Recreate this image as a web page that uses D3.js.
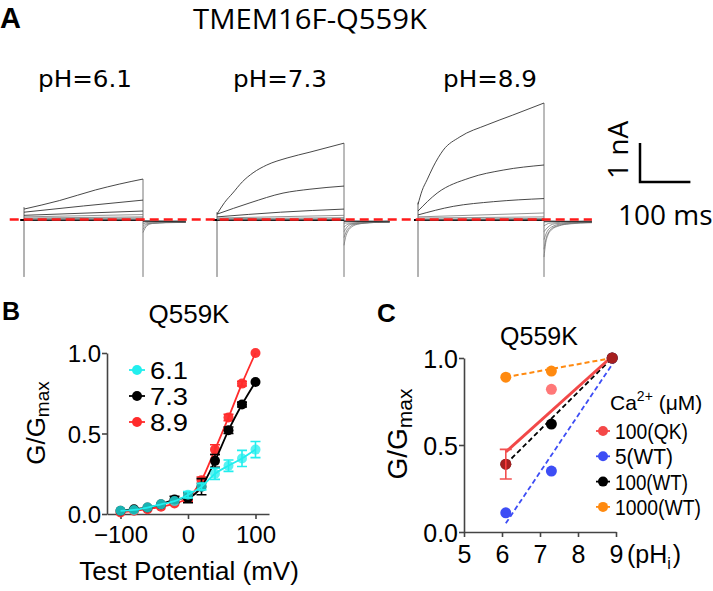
<!DOCTYPE html>
<html><head><meta charset="utf-8">
<script src="https://cdn.jsdelivr.net/npm/d3@7"></script>
<style>body{margin:0;background:#fff}</style>
</head><body>
<svg id="c" width="713" height="591" xmlns="http://www.w3.org/2000/svg"></svg>
<script>
// ================= DATA =================
// Panel A: current traces (time ms, current nA)
const phLabels = ["pH=6.1", "pH=7.3", "pH=8.9"];
const traces61 = [
  [[0,0.28],[75,0.5],[150,0.77],[200,0.92],[250,1.05]],
  [[0,0.2],[125,0.36],[250,0.51]],
  [[0,0.12],[250,0.23]],
  [[0,0.08],[250,0.14]],
  [[0,0.05],[250,0.08]],
  [[0,0.03],[250,0.05]],
  [[0,0.015],[250,0.025]],
  [[0,0.005],[250,0.01]]
];
const tails61 = [
  [[250,-0.32],[258,-0.15],[270,-0.09],[300,-0.07],[340,-0.06]],
  [[250,-0.24],[258,-0.12],[270,-0.08],[340,-0.05]],
  [[250,-0.16],[260,-0.09],[340,-0.05]],
  [[250,-0.1],[262,-0.06],[340,-0.04]],
  [[250,-0.05],[340,-0.03]],
  [[250,-0.02],[340,-0.02]]
];
const traces73 = [
  [[0,0.15],[15,0.45],[31,0.69],[50,0.98],[71,1.21],[98,1.41],[138,1.59],[183,1.74],[250,1.97]],
  [[0,0.15],[65,0.44],[130,0.69],[183,0.79],[250,0.87]],
  [[0,0.08],[125,0.2],[250,0.28]],
  [[0,0.05],[250,0.12]],
  [[0,0.03],[250,0.06]],
  [[0,0.015],[250,0.03]],
  [[0,0.005],[250,0.01]]
];
const tails73 = [
  [[250,-0.65],[253,-0.45],[258,-0.28],[266,-0.17],[280,-0.1],[300,-0.07],[340,-0.05]],
  [[250,-0.45],[255,-0.28],[262,-0.17],[275,-0.1],[340,-0.05]],
  [[250,-0.3],[256,-0.18],[265,-0.11],[340,-0.04]],
  [[250,-0.18],[260,-0.1],[340,-0.04]],
  [[250,-0.08],[340,-0.03]],
  [[250,-0.03],[340,-0.02]]
];
const traces89 = [
  [[0,0.4],[8,0.75],[18,1.03],[30,1.36],[50,1.79],[83,2.13],[137,2.44],[188,2.69],[250,3.0]],
  [[0,0.23],[38,0.69],[103,1.08],[169,1.28],[250,1.41]],
  [[0,0.13],[70,0.35],[150,0.47],[250,0.55]],
  [[0,0.08],[250,0.18]],
  [[0,0.05],[250,0.08]],
  [[0,0.02],[250,0.04]],
  [[0,0.005],[250,0.01]]
];
const tails89 = [
  [[250,-0.95],[253,-0.62],[258,-0.38],[265,-0.25],[280,-0.15],[300,-0.1],[345,-0.07]],
  [[250,-0.75],[254,-0.48],[260,-0.3],[270,-0.18],[290,-0.11],[345,-0.06]],
  [[250,-0.5],[256,-0.3],[265,-0.18],[285,-0.1],[345,-0.05]],
  [[250,-0.3],[258,-0.18],[270,-0.1],[345,-0.04]],
  [[250,-0.15],[262,-0.08],[345,-0.03]],
  [[250,-0.05],[345,-0.02]]
];
const transientMin = -1.46;   // nA, capacitive spikes
const scaleBarCurrent = 1;    // nA
const scaleBarTime = 100;     // ms

// Panel B: G/Gmax vs test potential
const voltages = [-100,-80,-60,-40,-20,0,20,40,60,80,100];
const g61 = [0.02,0.025,0.04,0.06,0.08,0.12,0.17,0.25,0.30,0.345,0.40];
const e61 = [0.01,0.01,0.01,0.01,0.01,0.02,0.02,0.035,0.035,0.05,0.05];
const g73 = [0.02,0.03,0.04,0.06,0.09,0.10,0.17,0.33,0.52,0.68,0.82];
const e73 = [0.01,0.01,0.01,0.01,0.02,0.03,0.05,0.04,0.02,0.015,0.01];
const g89 = [0.01,0.02,0.03,0.045,0.065,0.10,0.21,0.40,0.60,0.81,1.00];
const e89 = [0.005,0.01,0.01,0.01,0.01,0.02,0.02,0.03,0.02,0.015,0.01];
const legendB = ["6.1","7.3","8.9"];
const ticksBx = [-100,0,100];
const ticksBy = [0,0.5,1.0];

// Panel C: G/Gmax vs pHi
const pHs = [6.1, 7.3, 8.9];
const qk100 = [0.39, 0.82, 1.0];
const qk100err = [0.085, 0, 0];
const wt5 = [0.11, 0.35, 1.0];
const wt100 = [0.39, 0.62, 1.0];
const wt1000 = [0.89, 0.925, 1.0];
const fitQKpH = [6.1, 8.85], fitQK = [0.46, 1.0];
const fit5pH = [6.1, 8.95], fit5 = [0.05, 0.98];
const fit100pH = [6.1, 8.9], fit100 = [0.39, 1.0];
const fit1000pH = [6.1, 8.9], fit1000 = [0.89, 1.0];
const legendC = ["100(QK)","5(WT)","100(WT)","1000(WT)"];
const ticksCx = [5,6,7,8,9];
const ticksCy = [0,0.5,1.0];

// ================= DRAW =================
const svg = d3.select('#c');
const fA = "'Open Sans', sans-serif";
const fB = "'Liberation Sans', Arial, sans-serif";

// ---- Panel A ----
svg.append('text').attr('x',0).attr('y',28).attr('font-family',fB).attr('font-weight','bold')
  .attr('font-size',29).text('A');
svg.append('text').attr('x',310).attr('y',29).attr('text-anchor','middle').attr('font-family',fA)
  .attr('font-size',27).attr('textLength',234).attr('lengthAdjust','spacingAndGlyphs').text('TMEM16F-Q559K');

const yA = d3.scaleLinear().domain([0,1]).range([220,181]);
const panelsA = [
  {label: phLabels[0], traces: traces61, tails: tails61, range:[24,143], lx:38},
  {label: phLabels[1], traces: traces73, tails: tails73, range:[217,344], lx:233},
  {label: phLabels[2], traces: traces89, tails: tails89, range:[418,544], lx:443}
];
const xs = [];
panelsA.forEach(p => {
  const x = d3.scaleLinear().domain([0,250]).range(p.range);
  xs.push(x);
  const g = svg.append('g');
  const line = d3.line().x(d=>x(d[0])).y(d=>yA(d[1])).curve(d3.curveMonotoneX);
  g.append('text').attr('x',p.lx).attr('y',87).attr('font-family',"'DejaVu Sans', sans-serif").attr('font-size',23)
    .attr('textLength',94).attr('lengthAdjust','spacingAndGlyphs').text(p.label);
  // transients
  const topStart = d3.max(p.traces, t=>t[0][1]);
  const topEnd = d3.max(p.traces, t=>t[t.length-1][1]);
  g.append('line').attr('x1',x(0)).attr('x2',x(0)).attr('y1',yA(transientMin)).attr('y2',yA(topStart+0.05))
    .attr('stroke','#666').attr('stroke-width',1);
  g.append('line').attr('x1',x(250)).attr('x2',x(250)).attr('y1',yA(transientMin)).attr('y2',yA(topEnd))
    .attr('stroke','#777').attr('stroke-width',1);
  // pre-step baseline
  g.append('path').attr('d',line([[-8,0],[0,0]])).attr('stroke','#000').attr('stroke-width',2).attr('fill','none');
  // zero-level trace
  g.append('path').attr('d',line([[0,0],[250,0]])).attr('stroke','#111').attr('stroke-width',2).attr('fill','none');
  p.traces.forEach((t,i) => {
    g.append('path').attr('d',line(t)).attr('fill','none')
      .attr('stroke', i<3 ? '#333' : '#777').attr('stroke-width', i<3 ? 0.9 : 0.8);
  });
  p.tails.forEach(t => {
    g.append('path').attr('d',line(t)).attr('fill','none').attr('stroke','#777').attr('stroke-width',0.8);
  });
  g.append('path').attr('d',line([[250,-0.03],[p.tails[0][p.tails[0].length-1][0],-0.05]]))
    .attr('fill','none').attr('stroke','#333').attr('stroke-width',1.2);
});
// red zero reference line
svg.append('line').attr('x1',xs[0](-30)).attr('x2',xs[2](345)).attr('y1',yA(0)-0.5).attr('y2',yA(0)-0.5)
  .attr('stroke','#ff1a1a').attr('stroke-width',2.5).attr('stroke-dasharray','9,5');
// scale bar
const sbx = 640, sby = 182;
svg.append('path').attr('d',`M${sbx},${sby-(yA(0)-yA(scaleBarCurrent))}V${sby}H${sbx+(xs[2](scaleBarTime)-xs[2](0))}`)
  .attr('fill','none').attr('stroke','#000').attr('stroke-width',2.5);
svg.append('text').attr('transform','translate(628,150) rotate(-90)').attr('text-anchor','middle')
  .attr('font-family',fA).attr('font-size',28).text('1 nA');
svg.append('text').attr('x',618).attr('y',225).attr('font-family',fA).attr('font-size',28).text('100 ms');

// ---- Panel B ----
svg.append('text').attr('x',2).attr('y',320).attr('font-family',fB).attr('font-weight','bold')
  .attr('font-size',25).text('B');
svg.append('text').attr('x',189).attr('y',323).attr('text-anchor','middle').attr('font-family',fB)
  .attr('font-size',26).text('Q559K');
const xB = d3.scaleLinear().domain([-120,120]).range([107,269]);
const yB = d3.scaleLinear().domain([0,1]).range([514,353]);
const axB = svg.append('g').attr('transform','translate(0,514)')
  .call(d3.axisBottom(xB).tickValues(ticksBx).tickSize(5).tickPadding(7).tickSizeOuter(0).tickFormat(d3.format('d')));
const ayB = svg.append('g').attr('transform','translate(107,0)')
  .call(d3.axisLeft(yB).tickValues(ticksBy).tickSize(5).tickPadding(1).tickSizeOuter(0).tickFormat(d3.format('.1f')));
[axB, ayB].forEach(a => {
  a.selectAll('path,line').attr('stroke','#444').attr('stroke-width',1.6);
  a.selectAll('text').attr('font-family',fB).attr('font-size',24).attr('fill','#000');
});
ayB.selectAll('text').attr('dy','0.36em');
svg.append('text').attr('x',189).attr('y',580).attr('text-anchor','middle').attr('font-family',fB)
  .attr('font-size',26).text('Test Potential (mV)');
const ylabB = svg.append('text').attr('transform','translate(45,423) rotate(-90)').attr('text-anchor','middle')
  .attr('font-family',fB).attr('font-size',26);
ylabB.append('tspan').text('G/G');
ylabB.append('tspan').attr('font-size',19).attr('dy',4).text('max');

const seriesB = [
  {v:g89, e:e89, color:'#ff2b2b', op:0.95},
  {v:g73, e:e73, color:'#000000', op:1},
  {v:g61, e:e61, color:'#22eeee', op:0.75}
];
const lineB = d3.line().x((d,i)=>xB(voltages[i])).y(d=>yB(d)).curve(d3.curveMonotoneX);
seriesB.forEach(s => {
  const g = svg.append('g');
  g.append('path').attr('d',lineB(s.v)).attr('fill','none').attr('stroke',s.color).attr('stroke-width',1.8);
  s.v.forEach((v,i) => {
    const cx = xB(voltages[i]);
    if (s.e[i] > 0.012) {
      g.append('path').attr('d',`M${cx-5},${yB(v+s.e[i])}H${cx+5}M${cx},${yB(v+s.e[i])}V${yB(v-s.e[i])}M${cx-5},${yB(v-s.e[i])}H${cx+5}`)
        .attr('stroke',s.color).attr('stroke-width',1.6).attr('fill','none');
    }
  });
  g.selectAll('circle').data(s.v).join('circle')
    .attr('cx',(d,i)=>xB(voltages[i])).attr('cy',d=>yB(d)).attr('r',5)
    .attr('fill',s.color).attr('fill-opacity',s.op);
});
// legend B
const legColorsB = ['#22eeee','#000000','#ff2b2b'];
legendB.forEach((t,i) => {
  const cy = 370 + i*26;
  svg.append('line').attr('x1',129).attr('x2',145).attr('y1',cy).attr('y2',cy)
    .attr('stroke',legColorsB[i]).attr('stroke-width',1.8);
  svg.append('circle').attr('cx',137).attr('cy',cy).attr('r',5).attr('fill',legColorsB[i]);
  svg.append('text').attr('x',150).attr('y',cy+8.5).attr('font-family',fB).attr('font-size',23)
    .attr('textLength',38).attr('lengthAdjust','spacingAndGlyphs').text(t);
});

// ---- Panel C ----
svg.append('text').attr('x',377).attr('y',322).attr('font-family',fB).attr('font-weight','bold')
  .attr('font-size',26).text('C');
svg.append('text').attr('x',539).attr('y',345).attr('text-anchor','middle').attr('font-family',fB)
  .attr('font-size',25).text('Q559K');
const xC = d3.scaleLinear().domain([5,9]).range([464,616]);
const yC = d3.scaleLinear().domain([0,1]).range([532,358]);
const axC = svg.append('g').attr('transform','translate(0,532)')
  .call(d3.axisBottom(xC).tickValues(ticksCx).tickSize(5).tickPadding(8).tickSizeOuter(0).tickFormat(d3.format('d')));
const ayC = svg.append('g').attr('transform','translate(464,0)')
  .call(d3.axisLeft(yC).tickValues(ticksCy).tickSize(5).tickPadding(1).tickSizeOuter(0).tickFormat(d3.format('.1f')));
[axC, ayC].forEach(a => {
  a.selectAll('path,line').attr('stroke','#444').attr('stroke-width',1.6);
  a.selectAll('text').attr('font-family',fB).attr('font-size',25).attr('fill','#000');
});
ayC.selectAll('text').attr('dy','0.36em');
const phT = svg.append('text').attr('x',627).attr('y',563).attr('font-family',fB).attr('font-size',25);
phT.append('tspan').text('(pH');
phT.append('tspan').attr('font-size',16).attr('dy',6).text('i');
phT.append('tspan').attr('dy',-6).attr('dx',2).text(')');
const ylabC = svg.append('text').attr('transform','translate(407,434) rotate(-90)').attr('text-anchor','middle')
  .attr('font-family',fB).attr('font-size',28);
ylabC.append('tspan').text('G/G');
ylabC.append('tspan').attr('font-size',21).attr('dy',5).text('max');

const colRed = '#ff3030', colBlue = '#3d4df5', colBlack = '#000', colOrange = '#ff8a10';
const lineC = (px, vals, color, dash, w) => {
  svg.append('line').attr('x1',xC(px[0])).attr('x2',xC(px[1])).attr('y1',yC(vals[0])).attr('y2',yC(vals[1]))
    .attr('stroke',color).attr('stroke-width',w).attr('stroke-dasharray',dash);
};
lineC(fit1000pH, fit1000, colOrange, '5,3', 2);
lineC(fit5pH, fit5, colBlue, '5,3', 1.8);
lineC(fit100pH, fit100, colBlack, '5,3', 1.8);
lineC(fitQKpH, fitQK, '#f24848', null, 3);
const pointsC = (vals, color, op) => {
  vals.forEach((v,i) => svg.append('circle').attr('cx',xC(pHs[i])).attr('cy',yC(v)).attr('r',5.5)
    .attr('fill',color).attr('fill-opacity',op));
};
pointsC(wt1000, colOrange, 1);
pointsC(wt5, colBlue, 1);
pointsC(wt100, colBlack, 1);
qk100.forEach((v,i) => {
  if (qk100err[i] > 0) {
    const cx = xC(pHs[i]);
    svg.append('path').attr('d',`M${cx-6},${yC(v+qk100err[i])}H${cx+6}M${cx},${yC(v+qk100err[i])}V${yC(v-qk100err[i])}M${cx-6},${yC(v-qk100err[i])}H${cx+6}`)
      .attr('stroke','#f25050').attr('stroke-width',1.6).attr('fill','none');
  }
});
pointsC(qk100, colRed, 0.65);
// legend C
const ca = svg.append('text').attr('x',610).attr('y',410).attr('font-family',fB).attr('font-size',21);
ca.append('tspan').text('Ca');
ca.append('tspan').attr('font-size',14).attr('dy',-9).text('2+');
ca.append('tspan').attr('dy',9).text(' (μM)');
const legColorsC = ['#f44848', colBlue, colBlack, colOrange];
legendC.forEach((t,i) => {
  const cy = 431 + i*25.3;
  svg.append('line').attr('x1',596).attr('x2',610).attr('y1',cy).attr('y2',cy)
    .attr('stroke',legColorsC[i]).attr('stroke-width',1.8);
  svg.append('circle').attr('cx',603).attr('cy',cy).attr('r',5).attr('fill',legColorsC[i]);
  svg.append('text').attr('x',615).attr('y',cy+8).attr('font-family',fB).attr('font-size',22)
    .attr('textLength', [73,58,73,86][i]).attr('lengthAdjust','spacingAndGlyphs').text(t);
});
</script>
</body></html>
